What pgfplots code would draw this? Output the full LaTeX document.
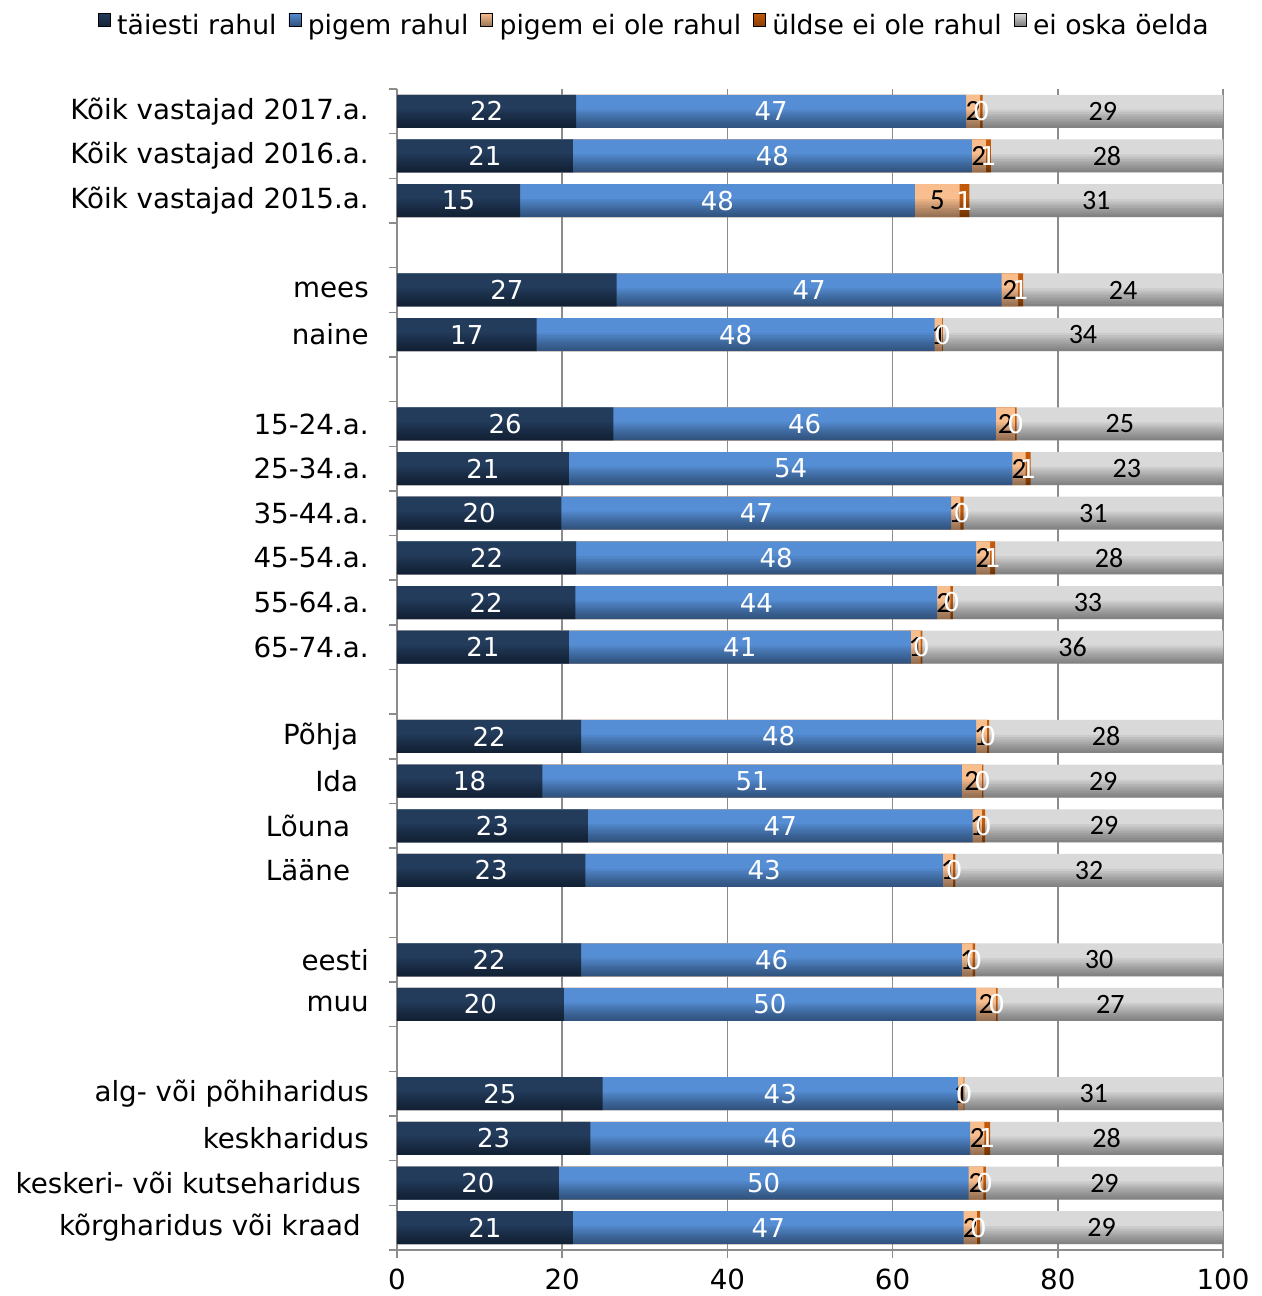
\documentclass[border=0pt]{standalone}
\usepackage{pgfplots}
\usepackage{pgfplotstable}
\pgfplotsset{compat=1.18}
\usepackage{fontspec}
\setmainfont{DejaVu Sans}
\newfontfamily\carl{Carlito}
\definecolor{navy}{HTML}{233C5C}
\definecolor{blueC}{HTML}{558ED5}
\definecolor{peach}{HTML}{F9BE8E}
\definecolor{oran}{HTML}{C25A0A}
\definecolor{grayC}{HTML}{D9D9D9}
\definecolor{gridgray}{HTML}{8C8C8C}
\pgfplotstableread{
pos a b c d e
0 21.7 47.2 1.7 0.3 29.1
1 21.3 48.3 1.7 0.6 28.1
2 14.9 47.8 5.4 1.2 30.7
4 26.6 46.6 2.0 0.6 24.2
5 16.9 48.2 0.9 0.1 33.9
7 26.2 46.3 2.3 0.2 25.0
8 20.8 53.7 1.6 0.6 23.3
9 19.9 47.2 1.1 0.4 31.4
10 21.7 48.4 1.7 0.6 27.6
11 21.6 43.8 1.6 0.3 32.7
12 20.8 41.4 1.2 0.2 36.4
14 22.3 47.8 1.3 0.3 28.3
15 17.6 50.8 2.4 0.2 29.0
16 23.1 46.6 1.1 0.4 28.8
17 22.8 43.3 1.2 0.3 32.4
19 22.3 46.1 1.3 0.3 30.0
20 20.2 49.9 2.4 0.2 27.3
22 24.9 43.0 0.7 0.1 31.3
23 23.4 46.0 1.7 0.7 28.2
24 19.6 49.6 1.8 0.3 28.7
25 21.3 47.3 1.6 0.4 29.4
}\datatable
\pgfplotsset{
  lbl/.style={draw=none, mark=none, forget plot, point meta=explicit,
    nodes near coords={\pgfmathprintnumber[fixed,precision=0,assume math mode=true]{\pgfplotspointmeta}},
    every node near coord/.style={anchor=center, inner sep=0pt, text=#1}},
  seg/.style={xbar, bar shift=0pt, bar width=24.75pt, forget plot, draw=none, fill=#1},
  shd/.style={xbar, bar shift=0pt, bar width=#1, forget plot, draw=none, fill=black, fill opacity=0.058},
}
\begin{document}
\begin{tikzpicture}
\path[use as bounding box] (-297.75pt,-34.5pt) rectangle (648pt,937.5pt);
\begin{axis}[
  at={(0,0)}, anchor=south west,
  scale only axis, width=619.5pt, height=870.75pt,
  xmin=0, xmax=100, ymin=-0.5, ymax=25.5,
  y dir=reverse,
  axis x line*=bottom, axis y line*=left,
  axis line style={gridgray, line width=1.1pt},
  tick style={gridgray, line width=1.1pt},
  tick align=outside, major tick length=6pt,
  xtick={0,20,...,100},
  xmajorgrids, grid style={gridgray, line width=1.1pt},
  ytick={-0.5,0.5,...,25.5}, yticklabels={\empty},
  extra y ticks={0,1,2,4,5,7,8,9,10,11,12,14,15,16,17,19,20,22,23,24,25},
  extra y tick labels={Kõik vastajad 2017.a.,Kõik vastajad 2016.a.,Kõik vastajad 2015.a.,mees,naine,15-24.a.,25-34.a.,35-44.a.,45-54.a.,55-64.a.,65-74.a.,Põhja\hspace*{8pt},Ida\hspace*{8pt},Lõuna\hspace*{14pt},Lääne\hspace*{14pt},eesti,muu,alg- või põhiharidus,keskharidus,keskeri- või kutseharidus\hspace*{6pt},kõrgharidus või kraad\hspace*{6pt}},
  extra y tick style={major tick length=0pt, yticklabel style={inner sep=0pt, xshift=-21pt}},
  tick label style={font=\fontsize{20.8}{24}\selectfont},
  xticklabel style={yshift=-5pt},
  /pgf/number format/assume math mode=true,
  legend columns=-1,
  legend style={draw=none, fill=none, at={(axis description cs:0.312,1.055)}, anchor=center,
    font=\fontsize{20}{24}\selectfont, column sep=0pt,
    /tikz/every odd column/.append style={column sep=3pt},
    /tikz/every even column/.append style={column sep=7pt}},
  legend image code/.code={\fill[#1] (0pt,-1pt) rectangle (9pt,9pt);},
  clip=false,
]
\addplot[seg=grayC] table[x expr=\thisrow{a}+\thisrow{b}+\thisrow{c}+\thisrow{d}+\thisrow{e}, y=pos] {\datatable};
\addplot[seg=oran] table[x expr=\thisrow{a}+\thisrow{b}+\thisrow{c}+\thisrow{d}, y=pos] {\datatable};
\addplot[seg=peach] table[x expr=\thisrow{a}+\thisrow{b}+\thisrow{c}, y=pos] {\datatable};
\addplot[seg=blueC] table[x expr=\thisrow{a}+\thisrow{b}, y=pos] {\datatable};
\addplot[seg=navy] table[x=a, y=pos] {\datatable};
% darker lower band of each bar (gradient look)
\addplot[shd=13.6pt] table[x expr=\thisrow{a}+\thisrow{b}+\thisrow{c}+\thisrow{d}+\thisrow{e}, y expr=\thisrow{pos}+0.16647] {\datatable};
\addplot[shd=11.9pt] table[x expr=\thisrow{a}+\thisrow{b}+\thisrow{c}+\thisrow{d}+\thisrow{e}, y expr=\thisrow{pos}+0.19185] {\datatable};
\addplot[shd=10.2pt] table[x expr=\thisrow{a}+\thisrow{b}+\thisrow{c}+\thisrow{d}+\thisrow{e}, y expr=\thisrow{pos}+0.21723] {\datatable};
\addplot[shd=8.5pt] table[x expr=\thisrow{a}+\thisrow{b}+\thisrow{c}+\thisrow{d}+\thisrow{e}, y expr=\thisrow{pos}+0.24261] {\datatable};
\addplot[shd=6.8pt] table[x expr=\thisrow{a}+\thisrow{b}+\thisrow{c}+\thisrow{d}+\thisrow{e}, y expr=\thisrow{pos}+0.26799] {\datatable};
\addplot[shd=5.1pt] table[x expr=\thisrow{a}+\thisrow{b}+\thisrow{c}+\thisrow{d}+\thisrow{e}, y expr=\thisrow{pos}+0.29337] {\datatable};
\addplot[shd=3.4pt] table[x expr=\thisrow{a}+\thisrow{b}+\thisrow{c}+\thisrow{d}+\thisrow{e}, y expr=\thisrow{pos}+0.31875] {\datatable};
\addplot[shd=1.7pt] table[x expr=\thisrow{a}+\thisrow{b}+\thisrow{c}+\thisrow{d}+\thisrow{e}, y expr=\thisrow{pos}+0.34413] {\datatable};
% data labels
\addplot[lbl=white, nodes near coords style={font=\fontsize{19.5}{22}\selectfont}] table[x expr=\thisrow{a}/2, y=pos, meta=a] {\datatable};
\addplot[lbl=white, nodes near coords style={font=\fontsize{19.5}{22}\selectfont}] table[x expr=\thisrow{a}+\thisrow{b}/2, y=pos, meta=b] {\datatable};
\addplot[lbl=black, nodes near coords style={font=\carl\fontsize{22}{24}\selectfont}] table[x expr=\thisrow{a}+\thisrow{b}+\thisrow{c}/2, y=pos, meta=c] {\datatable};
\addplot[lbl=white, nodes near coords style={font=\fontsize{19.5}{22}\selectfont}] table[x expr=\thisrow{a}+\thisrow{b}+\thisrow{c}+\thisrow{d}/2, y=pos, meta=d] {\datatable};
\addplot[lbl=black, nodes near coords style={font=\carl\fontsize{21}{22}\selectfont}] table[x expr=\thisrow{a}+\thisrow{b}+\thisrow{c}+\thisrow{d}+\thisrow{e}/2, y=pos, meta=e] {\datatable};
\addlegendimage{top color=navy, bottom color=navy!60!black}\addlegendentry{täiesti rahul}
\addlegendimage{top color=blueC, bottom color=blueC!55!black}\addlegendentry{pigem rahul}
\addlegendimage{top color=peach, bottom color=peach!60!black}\addlegendentry{pigem ei ole rahul}
\addlegendimage{top color=oran, bottom color=oran!70!black}\addlegendentry{üldse ei ole rahul}
\addlegendimage{top color=grayC, bottom color=grayC!55!black}\addlegendentry{ei oska öelda}
\end{axis}
\end{tikzpicture}
\end{document}
